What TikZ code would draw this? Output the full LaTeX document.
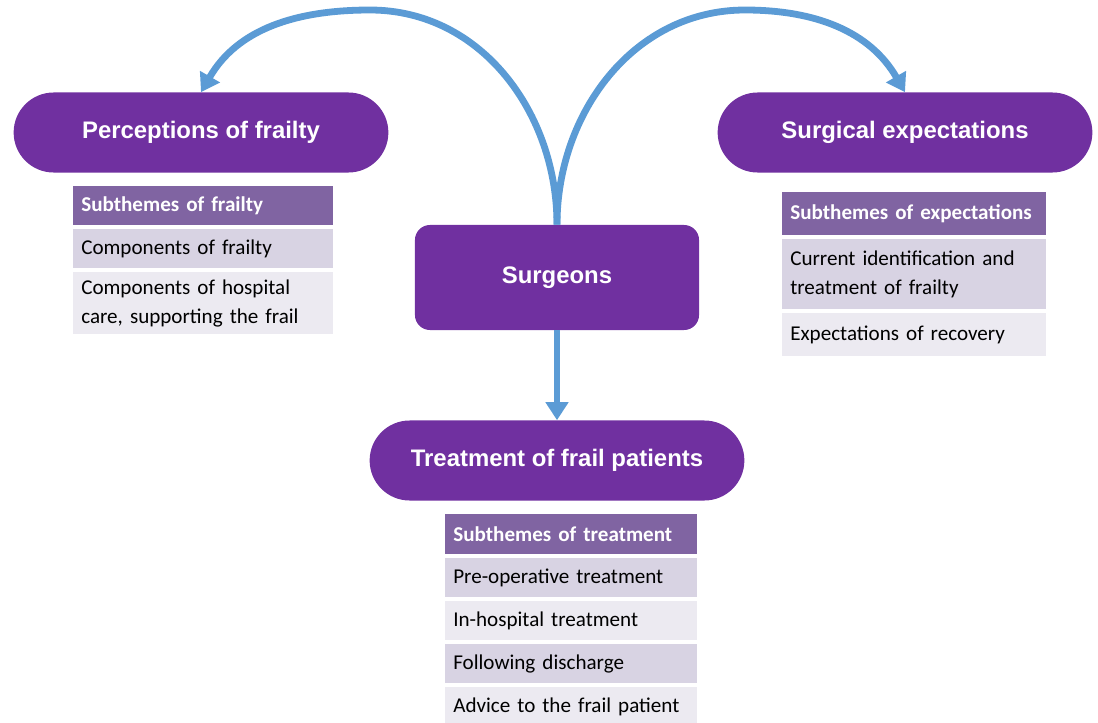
\documentclass[tikz,border=0pt]{standalone}
\usepackage{fontspec}
\setmainfont{Liberation Sans}
\newfontfamily\tablefont[WordSpace=0.8]{Carlito}
\usetikzlibrary{positioning,shapes.misc,arrows.meta}
\definecolor{themepurple}{HTML}{7030A0}
\definecolor{headpurple}{HTML}{8064A2}
\definecolor{rowdark}{HTML}{D8D3E3}
\definecolor{rowlight}{HTML}{ECEAF1}
\definecolor{linkblue}{HTML}{5B9BD5}

\begin{document}
\begin{tikzpicture}[x=0.025cm, y=-0.025cm,
  theme/.style = {shape=rounded rectangle, fill=themepurple, text=white, font=\bfseries\fontsize{17}{20}\selectfont, minimum width=9.6cm, minimum height=2.0cm},
  hub/.style = {shape=rectangle, rounded corners=0.375cm, fill=themepurple, text=white, font=\bfseries\fontsize{17}{20}\selectfont, minimum width=7.1cm, minimum height=2.625cm},
  cell/.style = {shape=rectangle, align=left, inner xsep=0.2cm, inner ysep=0pt, font=\tablefont\fontsize{15}{20.5}\selectfont},
  head/.style = {cell, fill=headpurple, text=white, font=\tablefont\bfseries\fontsize{15}{20.5}\selectfont},
  dark/.style = {cell, fill=rowdark},
  light/.style = {cell, fill=rowlight},
  link/.style = {draw=linkblue, line width=0.17cm, -{Triangle[width=0.55cm,length=0.45cm]}}]
  \useasboundingbox (0,0) rectangle (1098,723);

  % main themes
  \node[hub] (surgeons) at (557,277.5) {Surgeons};
  \node[theme] (perc) at (201,132.5) {Perceptions of frailty};
  \node[theme] (expect) at (905,132.5) {Surgical expectations};
  \node[theme] (treat) at (557,460.5) {Treatment of frail patients};

  % subthemes of frailty
  \node[head, text width=6.1cm, minimum height=0.975cm, anchor=north west] (hdrL) at (73,186) {Subthemes of frailty};
  \node[dark, text width=6.1cm, minimum height=0.975cm, below=0.09cm of hdrL] (frailA) {Components of frailty};
  \node[light, text width=6.1cm, minimum height=1.55cm, below=0.08cm of frailA] (frailB) {Components of hospital\\care, supporting the frail};

  % subthemes of expectations
  \node[head, text width=6.2cm, minimum height=1.075cm, anchor=north west] (hdrR) at (782,192) {Subthemes of expectations};
  \node[dark, text width=6.2cm, minimum height=1.75cm, below=0.09cm of hdrR] (expA) {Current identification and\\treatment of frailty};
  \node[light, text width=6.2cm, minimum height=1.075cm, below=0.08cm of expA] (expB) {Expectations of recovery};

  % subthemes of treatment
  \node[head, text width=5.9cm, minimum height=1.0cm, anchor=north west] (hdrB) at (445,514) {Subthemes of treatment};
  \node[dark, text width=5.9cm, minimum height=0.975cm, below=0.085cm of hdrB] (treatA) {Pre-operative treatment};
  \node[light, text width=5.9cm, minimum height=0.975cm, below=0.085cm of treatA] (treatB) {In-hospital treatment};
  \node[dark, text width=5.9cm, minimum height=0.975cm, below=0.085cm of treatB] (treatC) {Following discharge};
  \node[light, text width=5.9cm, minimum height=0.975cm, below=0.085cm of treatC] (treatD) {Advice to the frail patient};

  % links
  \coordinate (peakL) at (370,10);
  \coordinate (peakR) at (745,10);
  \draw[link] (surgeons.north) to[out=90,in=0] (peakL) to[out=180,in=60] (perc.north);
  \draw[link] (surgeons.north) to[out=90,in=180] (peakR) to[out=0,in=120] (expect.north);
  \draw[link] (surgeons.south) -- (treat.north);
\end{tikzpicture}
\end{document}
